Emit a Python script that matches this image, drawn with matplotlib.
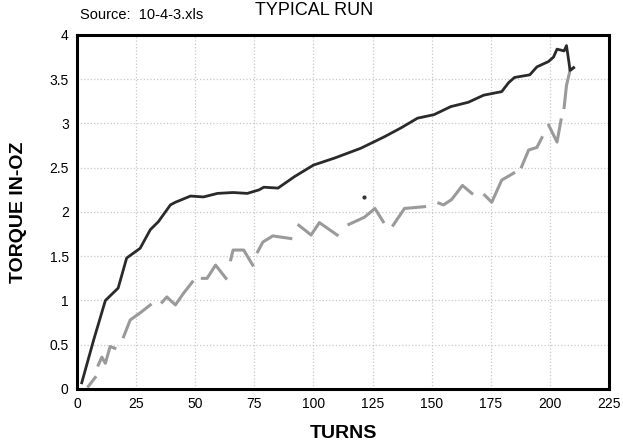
import numpy as np
import matplotlib
matplotlib.use("Agg")
import matplotlib.pyplot as plt

nan = np.nan

# upper (black) run
turns_a = [2, 7, 12, 17.4, 21, 26.7, 31, 34.4, 39.5, 41.6, 48, 53.5, 59.4, 66, 72, 77,
           79, 85, 92, 100, 109, 116, 120, 130, 137, 144, 151, 158, 165.5, 172, 179.6,
           182.5, 185, 191.5, 194.5, 199.4, 201.5, 203, 206, 207, 208, 208.5, 210]
torque_a = [0.07, 0.55, 1.0, 1.14, 1.48, 1.59, 1.8, 1.89, 2.08, 2.11, 2.18, 2.17, 2.21, 2.22, 2.21, 2.25,
            2.28, 2.27, 2.4, 2.53, 2.61, 2.68, 2.72, 2.85, 2.95, 3.06, 3.1, 3.19, 3.24, 3.32, 3.36,
            3.46, 3.52, 3.55, 3.64, 3.7, 3.75, 3.84, 3.82, 3.88, 3.7, 3.6, 3.63]

# lower (grey) run, NaN = gap in trace
turns_b = [4.8, 7.7, nan, 9, 10.5, 12, 14, 16, nan, 19, nan, 19.7, 22.5, 26.7, 31, nan,
           36, 38, 41.6, 45, 48.8, nan, 53, 55, 58.6, 63, nan, 65, 66, 70.5, 74.3, nan,
           76.4, 78.6, 82.8, 90.4, nan, 93.8, 99, 102.5, 110, nan, 111, nan, 115, 121.5, 126, 129.5, nan,
           133.7, 138.5, 147, nan, 153, 155, 158.4, 163, 167, nan, 172.4, 175.4, 179.6, 184.7, nan,
           188, 191, 194.5, 196.6, nan, 199.5, 203, 204.7, nan, 206, 207, 208.5, 210]
torque_b = [0.03, 0.13, nan, 0.27, 0.36, 0.29, 0.48, 0.46, nan, 0.26, nan, 0.59, 0.78, 0.86, 0.95, nan,
            0.98, 1.04, 0.95, 1.08, 1.21, nan, 1.25, 1.25, 1.4, 1.25, nan, 1.46, 1.57, 1.57, 1.4, nan,
            1.55, 1.66, 1.73, 1.7, nan, 1.85, 1.74, 1.88, 1.74, nan, 1.86, nan, 1.86, 1.94, 2.04, 1.89, nan,
            1.85, 2.04, 2.06, nan, 2.1, 2.08, 2.14, 2.3, 2.21, nan, 2.19, 2.11, 2.36, 2.44, nan,
            2.51, 2.7, 2.73, 2.84, nan, 2.98, 2.79, 3.04, nan, 3.18, 3.43, 3.6, 3.63]

stray_x = [121.5]
stray_y = [2.17]

xticks = [0, 25, 50, 75, 100, 125, 150, 175, 200, 225]
yticks = [0, 0.5, 1, 1.5, 2, 2.5, 3, 3.5, 4]
ytick_labels = ['0', '0.5', '1', '1.5', '2', '2.5', '3', '3.5', '4']

plt.rcParams['font.family'] = ['Liberation Sans', 'DejaVu Sans']

fig = plt.figure(figsize=(6.23, 4.44), dpi=100)
ax = fig.add_axes([0.1236, 0.1239, 0.854, 0.7973])

ax.plot(turns_b, torque_b, color='#9a9a9a', lw=2.2)
ax.plot(turns_a, torque_a, color='#2a2a2a', lw=2.0)
ax.plot(stray_x, stray_y, 'o', color='#333333', ms=2)

ax.set_xlim(0, 225)
ax.set_ylim(0, 4)
ax.set_xticks(xticks)
ax.set_yticks(yticks)
ax.set_yticklabels(ytick_labels)
ax.tick_params(length=0, labelsize=10, pad=6)
ax.grid(True, color='#c8c8c8', linestyle=':', lw=0.9)
for s in ax.spines.values():
    s.set_linewidth(2.2)
    s.set_color('black')

ax.set_xlabel('TURNS', fontsize=14, fontweight='bold', labelpad=10)
ax.set_ylabel('TORQUE IN-OZ', fontsize=14, fontweight='bold', labelpad=16)

fig.text(80 / 623, 1 - 19 / 444, 'Source:  10-4-3.xls', fontsize=10.5, va='baseline')
fig.text(0.505, 1 - 15 / 444, 'TYPICAL RUN', fontsize=13, ha='center', va='baseline')

fig.savefig('out.png', dpi=100)
